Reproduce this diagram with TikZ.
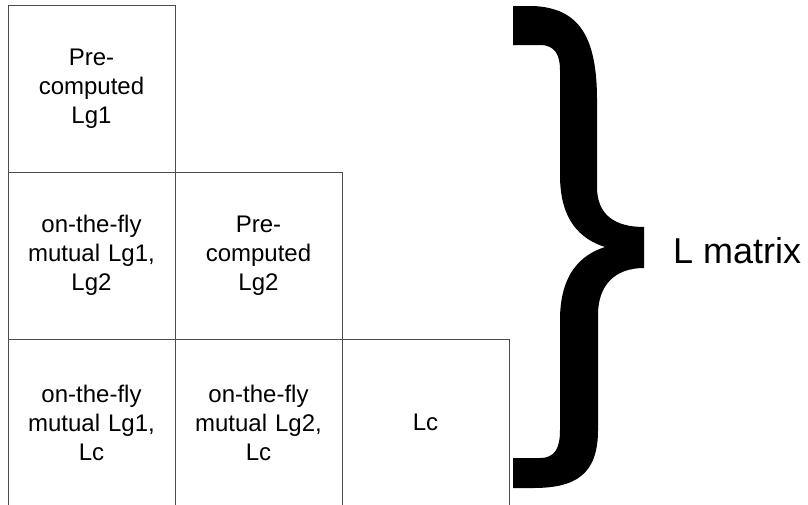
\documentclass[tikz,border=0pt]{standalone}
\usepackage{fontspec}
\setmainfont{Liberation Sans}
\usepackage{tikz}
\usepackage{xcolor}

\tikzset{
  cell/.style={draw=black!70, line width=1pt, minimum width=167pt, minimum height=167pt,
    text width=150pt, align=center, inner sep=0pt, font=\fontsize{24}{29}\selectfont},
}

\begin{document}
\begin{tikzpicture}[x=1pt, y=-1pt]
	\useasboundingbox (0, 0) rectangle (808, 504);
	% lower triangle of the matrix
	\node[cell] (pg1) at (91.5, 88.5) {Pre-\\computed\\Lg1};
	\node[cell] (mixg) at (91.5, 255.5) {on-the-fly\\mutual Lg1,\\Lg2};
	\node[cell] (pg2) at (258.5, 255.5) {Pre-\\computed\\Lg2};
	\node[cell] (mixa) at (91.5, 422.5) {on-the-fly\\mutual Lg1,\\Lc};
	\node[cell] (mixb) at (258.5, 422.5) {on-the-fly\\mutual Lg2,\\Lc};
	\node[cell] (lc) at (425.5, 422.5) {Lc};
	% big curly brace
	\fill[black] (513, 6) -- (533, 6)
		.. controls (578, 8) and (597, 35) .. (597, 100) -- (597, 187)
		.. controls (597, 215) and (615, 227) .. (644, 227) -- (644, 268)
		.. controls (615, 268) and (598, 285) .. (598, 315) -- (598, 430)
		.. controls (598, 475) and (575, 488) .. (533, 488) -- (513, 488) -- (513, 458) -- (540, 458)
		.. controls (555, 458) and (560, 448) .. (560, 430) -- (560, 320)
		.. controls (560, 275) and (580, 255) .. (605, 247)
		.. controls (580, 239) and (560, 220) .. (560, 175) -- (560, 70)
		.. controls (560, 55) and (555, 45) .. (540, 45) -- (513, 45) -- cycle;
	\node[anchor=base west, inner sep=0pt, font=\fontsize{36}{43}\selectfont] (lmat) at (673, 263) {L matrix};
\end{tikzpicture}
\end{document}
